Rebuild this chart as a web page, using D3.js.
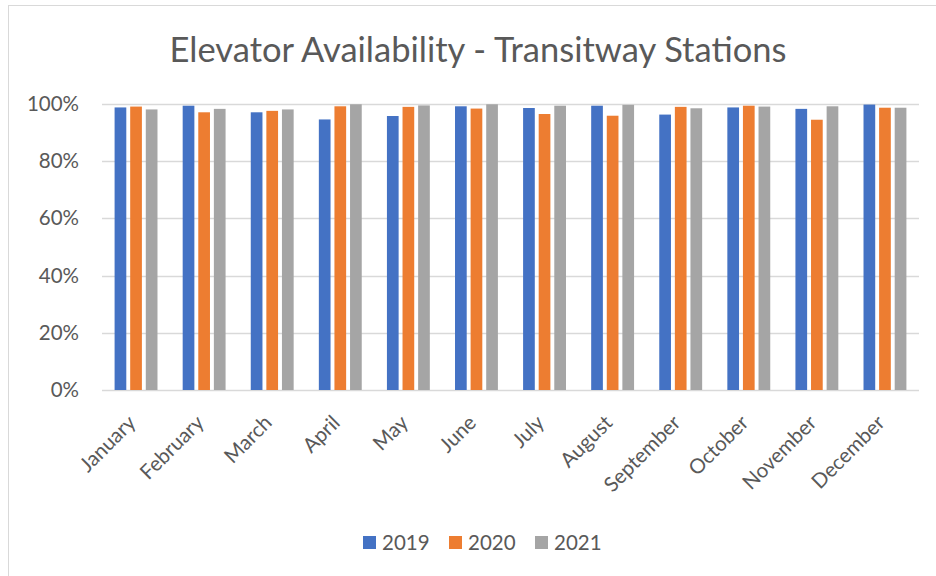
<!DOCTYPE html>
<html>
<head>
<meta charset="utf-8">
<script src="https://cdn.jsdelivr.net/npm/d3@7"></script>
<style>
  body { margin: 0; background: #fff; }
  text { font-family: Lato, "Noto Sans", sans-serif; fill: #595959; }
</style>
</head>
<body>
<svg id="chart"></svg>
<script>
var months = ["January", "February", "March", "April", "May", "June", "July",
              "August", "September", "October", "November", "December"];
var seriesNames = ["2019", "2020", "2021"];
var v2019 = [0.988, 0.994, 0.971, 0.946, 0.958, 0.992, 0.986, 0.994, 0.963, 0.988, 0.983, 0.998];
var v2020 = [0.991, 0.971, 0.976, 0.992, 0.990, 0.984, 0.965, 0.959, 0.990, 0.994, 0.945, 0.987];
var v2021 = [0.981, 0.983, 0.981, 0.999, 0.995, 0.999, 0.994, 0.997, 0.985, 0.991, 0.992, 0.987];
var yTicks = [0, 0.2, 0.4, 0.6, 0.8, 1.0];
var colors = ["#4472C4", "#ED7D31", "#A5A5A5"];

var W = 936, H = 576;
var margin = { top: 104, right: 17, bottom: 186, left: 102 },
    width = W - margin.left - margin.right,
    height = H - margin.top - margin.bottom;

var data = months.map(function (m, i) {
    return { month: m, values: [v2019[i], v2020[i], v2021[i]] };
});

var svg = d3.select("#chart").attr("width", W).attr("height", H);

// outer frame
svg.append("rect")
    .attr("x", 8.5).attr("y", 5.5)
    .attr("width", W).attr("height", H)
    .attr("fill", "none")
    .attr("stroke", "#D9D9D9");

svg.append("text")
    .attr("x", 478).attr("y", 62)
    .attr("text-anchor", "middle")
    .style("font-size", "34.5px")
    .text("Elevator Availability - Transitway Stations");

var g = svg.append("g")
    .attr("transform", "translate(" + margin.left + "," + margin.top + ")");

var x0 = d3.scaleBand()
    .domain(months)
    .range([0, width])
    .paddingInner(0.37)
    .paddingOuter(0.185);

var x1 = d3.scaleBand()
    .domain(seriesNames)
    .range([0, x0.bandwidth()])
    .paddingInner(0.25);

var y = d3.scaleLinear()
    .domain([0, 1])
    .range([height, 0]);

// gridlines
g.append("g")
    .selectAll("line")
    .data(yTicks)
    .enter().append("line")
    .attr("x1", 0).attr("x2", width)
    .attr("y1", function (d) { return Math.round(y(d)) + 0.5; })
    .attr("y2", function (d) { return Math.round(y(d)) + 0.5; })
    .attr("stroke", "#D9D9D9")
    .attr("stroke-width", 1.5);

// y labels
var yAxis = g.append("g")
    .call(d3.axisLeft(y).tickValues(yTicks).tickFormat(d3.format(".0%")).tickSize(0).tickPadding(23));
yAxis.select(".domain").remove();
yAxis.selectAll("text")
    .style("font-size", "20.5px")
    .attr("fill", "#595959");

// bars
var groups = g.selectAll(".grp")
    .data(data)
    .enter().append("g")
    .attr("class", "grp")
    .attr("transform", function (d) { return "translate(" + x0(d.month) + ",0)"; });

groups.selectAll("rect")
    .data(function (d) { return d.values.map(function (v, i) { return { key: seriesNames[i], value: v, i: i }; }); })
    .enter().append("rect")
    .attr("x", function (d) { return x1(d.key); })
    .attr("width", x1.bandwidth())
    .attr("y", function (d) { return y(d.value); })
    .attr("height", function (d) { return height - y(d.value); })
    .attr("fill", function (d) { return colors[d.i]; });

// x axis
var xAxis = g.append("g")
    .attr("transform", "translate(0," + height + ")")
    .call(d3.axisBottom(x0).tickSize(0).tickPadding(0));
xAxis.select(".domain").remove();
xAxis.selectAll("text")
    .style("font-size", "20.5px")
    .attr("fill", "#595959")
    .attr("text-anchor", "end")
    .attr("dy", "0")
    .attr("transform", "translate(1,34) rotate(-45)");

// legend
var legend = svg.append("g")
    .attr("transform", "translate(363,536)");
var item = legend.selectAll("g")
    .data(seriesNames)
    .enter().append("g")
    .attr("transform", function (d, i) { return "translate(" + (i * 86) + ",0)"; });
item.append("rect")
    .attr("width", 13).attr("height", 13)
    .attr("fill", function (d, i) { return colors[i]; });
item.append("text")
    .attr("x", 19).attr("y", 14)
    .style("font-size", "20.5px")
    .text(function (d) { return d; });
</script>
</body>
</html>
